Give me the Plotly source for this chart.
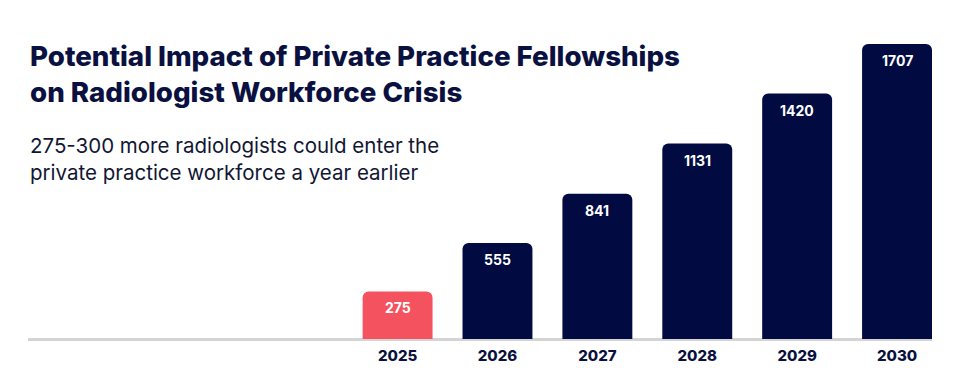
import plotly.graph_objects as go

years = ["2025", "2026", "2027", "2028", "2029", "2030"]
values = [275, 555, 841, 1131, 1420, 1707]
bar_colors = ["#F5525F", "#020A42", "#020A42", "#020A42", "#020A42", "#020A42"]

title_text = "Potential Impact of Private Practice Fellowships<br>on Radiologist Workforce Crisis"
subtitle_text = "275-300 more radiologists could enter the<br>private practice workforce a year earlier"

NAVY = "#0A1140"
FONT = "Inter, 'Noto Sans', sans-serif"

# page body has an 8px margin: plot area target 28..932 x, 30..339 y on screen
fig = go.Figure()
fig.add_trace(go.Bar(
    x=years,
    y=values,
    marker=dict(color=bar_colors, cornerradius=6, line=dict(width=0)),
    width=0.7,
    hoverinfo="skip",
))

annotations = []
for i, v in enumerate(values):
    annotations.append(dict(
        x=i, y=v, xref="x", yref="y",
        text=str(v), showarrow=False,
        yanchor="top", yshift=-6,
        font=dict(family=FONT, size=14, color="white", weight=700),
    ))

annotations.append(dict(
    x=0, y=(339 - 37) / 309, xref="paper", yref="paper",
    xanchor="left", yanchor="top", align="left",
    text=title_text, showarrow=False,
    font=dict(family=FONT, size=27.7, color=NAVY, weight=800),
))
annotations.append(dict(
    x=0, y=(339 - 131) / 309, xref="paper", yref="paper",
    xanchor="left", yanchor="top", align="left",
    text=subtitle_text, showarrow=False,
    font=dict(family=FONT, size=20.5, color="#111633"),
))

fig.update_layout(
    width=956, height=390,
    margin=dict(l=20, r=32, t=22, b=59),
    paper_bgcolor="white", plot_bgcolor="white",
    showlegend=False,
    annotations=annotations,
    xaxis=dict(
        type="category",
        range=[-3.7, 5.35],
        showgrid=False, zeroline=False,
        showline=False,
        ticks="",
        ticklabelstandoff=6,
        tickfont=dict(family=FONT, size=15, color=NAVY, weight=800),
    ),
    yaxis=dict(
        range=[0, 1788],
        showgrid=False, zeroline=True, zerolinecolor="#D4D4D4", zerolinewidth=2.5,
        showticklabels=False, ticks="",
    ),
)

fig.write_html("out.html")
